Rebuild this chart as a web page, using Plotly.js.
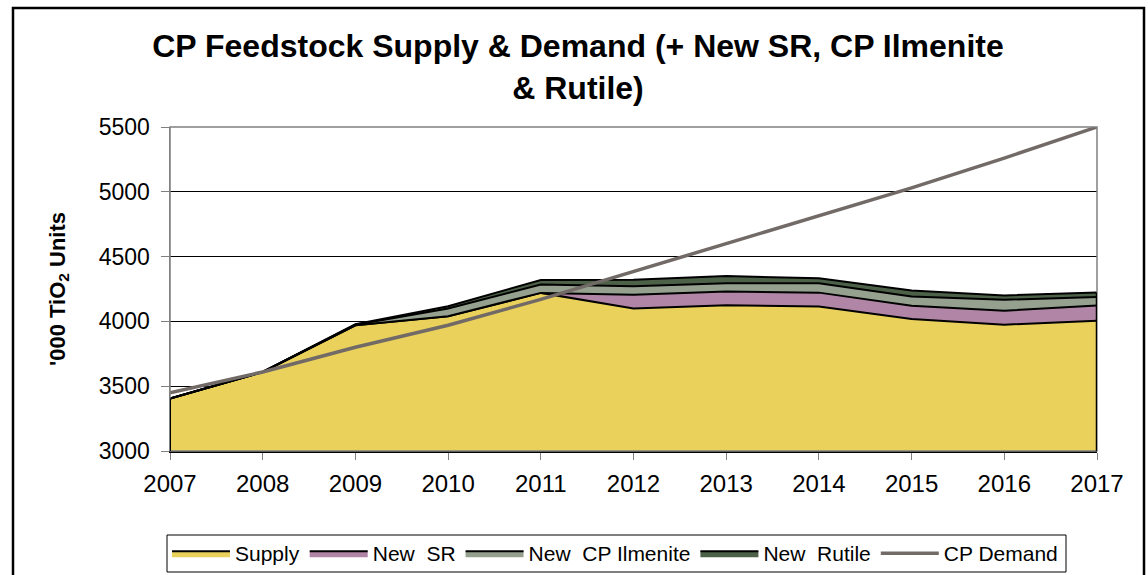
<!DOCTYPE html>
<html>
<head>
<meta charset="utf-8">
<script src="https://cdn.plot.ly/plotly-3.0.1.min.js"></script>
<style>
  html, body { margin: 0; padding: 0; background: #ffffff; }
  #chart { width: 1148px; height: 575px; }
</style>
</head>
<body>
<div id="chart"></div>
<script>
// ---- Data ----
const years = [2007, 2008, 2009, 2010, 2011, 2012, 2013, 2014, 2015, 2016, 2017];
const supply = [3405, 3610, 3970, 4040, 4220, 4100, 4125, 4115, 4018, 3975, 4005];
const newSR = [0, 0, 0, 0, 0, 105, 105, 107, 103, 107, 118];
const newCPIlmenite = [0, 0, 4, 60, 65, 67, 64, 72, 71, 85, 65];
const newRutile = [0, 0, 4, 17, 35, 50, 56, 38, 46, 33, 35];
const cpDemand = [3450, 3610, 3800, 3970, 4170, 4385, 4600, 4810, 5030, 5260, 5500];
const yTicks = [3000, 3500, 4000, 4500, 5000, 5500];
const seriesNames = ['Supply', 'New  SR', 'New  CP Ilmenite', 'New  Rutile', 'CP Demand'];

// ---- Geometry (pixels) ----
const W = 1148, H = 575;
const L = 170, R = 1097, T = 127, B = 451;
const pw = R - L, ph = B - T;
const px = v => (v - L) / pw;
const py = v => (B - v) / ph;

const FONT = 'Liberation Sans, Arial, sans-serif';

function area(name, y, color) {
  return {
    type: 'scatter', mode: 'lines', x: years, y: y, name: name,
    stackgroup: 'one', fillcolor: color,
    line: { color: '#000000', width: 2 },
    hoverinfo: 'skip'
  };
}

const traces = [
  area(seriesNames[0], supply, '#EAD15C'),
  area(seriesNames[1], newSR, '#B085A5'),
  area(seriesNames[2], newCPIlmenite, '#95A08F'),
  area(seriesNames[3], newRutile, '#4C6147'),
  {
    type: 'scatter', mode: 'lines', x: years, y: cpDemand, name: seriesNames[4],
    line: { color: '#726A66', width: 3.5 }, hoverinfo: 'skip'
  }
];

// stack top at the first / last year (for the black side outlines of the area)
const last = years.length - 1;
const topFirst = supply[0] + newSR[0] + newCPIlmenite[0] + newRutile[0];
const topLast = supply[last] + newSR[last] + newCPIlmenite[last] + newRutile[last];

const layout = {
  width: W, height: H,
  paper_bgcolor: '#ffffff', plot_bgcolor: '#ffffff',
  margin: { l: L, r: W - R, t: T, b: H - B, pad: 0, autoexpand: false },
  font: { family: FONT, color: '#000000', size: 21 },
  showlegend: true,
  title: {
    text: '<b>CP Feedstock Supply & Demand (+ New SR, CP Ilmenite<br>& Rutile)</b>',
    font: { family: FONT, size: 32, color: '#000000' },
    x: 578 / W, xref: 'container', xanchor: 'center',
    y: 1 - 57 / H, yref: 'container', yanchor: 'middle'
  },
  xaxis: {
    range: [2007, 2017], tickmode: 'array', tickvals: years,
    ticktext: years.map(String),
    ticks: 'outside', ticklen: 7, tickcolor: '#808080', tickwidth: 1,
    showline: true, linecolor: '#000000', linewidth: 2,
    showgrid: false, zeroline: false, fixedrange: true,
    tickfont: { family: FONT, size: 24, color: '#000000' },
    ticklabelstandoff: 3
  },
  yaxis: {
    range: [3000, 5500], tickmode: 'array', tickvals: yTicks,
    ticktext: yTicks.map(String),
    ticks: 'outside', ticklen: 8, tickcolor: '#808080', tickwidth: 1,
    showline: true, linecolor: '#808080', linewidth: 1.5,
    showgrid: true, gridcolor: '#000000', gridwidth: 1,
    zeroline: false, fixedrange: true,
    tickfont: { family: FONT, size: 23, color: '#000000' },
    ticklabelstandoff: 6,
    title: {
      text: "<b>'000 TiO<sub>2</sub> Units</b>",
      font: { family: FONT, size: 22, color: '#000000' },
      standoff: 27
    }
  },
  legend: {
    orientation: 'h', traceorder: 'normal',
    x: px(167), xanchor: 'left', y: py(533), yanchor: 'top',
    bordercolor: '#000000', borderwidth: 0, bgcolor: 'rgba(0,0,0,0)',
    font: { family: FONT, size: 21, color: '#000000' },
    itemwidth: 58, tracegroupgap: 0
  },
  shapes: [
    // plot-area border (gray)
    { type: 'rect', xref: 'paper', yref: 'paper', x0: 0, x1: 1, y0: 0, y1: 1,
      line: { color: '#808080', width: 1.5 }, layer: 'above' },
    // black outline of the area at its left and right ends
    { type: 'line', xref: 'x', yref: 'y', x0: years[0], x1: years[0], y0: yTicks[0], y1: topFirst,
      line: { color: '#000000', width: 2 }, layer: 'above' },
    { type: 'line', xref: 'x', yref: 'y', x0: years[last], x1: years[last], y0: yTicks[0], y1: topLast,
      line: { color: '#000000', width: 2.5 }, layer: 'above' },
    // legend frame
    { type: 'rect', xref: 'paper', yref: 'paper',
      x0: px(167), x1: px(1066), y0: py(572), y1: py(535),
      line: { color: '#000000', width: 1 }, layer: 'above' },
    // outer chart frame
    { type: 'rect', xref: 'paper', yref: 'paper',
      x0: px(13), x1: px(1144), y0: py(600), y1: py(8),
      line: { color: '#000000', width: 2.5 }, layer: 'above' }
  ],
  hovermode: false
};

Plotly.newPlot('chart', traces, layout, { displayModeBar: false, staticPlot: true });
</script>
</body>
</html>
